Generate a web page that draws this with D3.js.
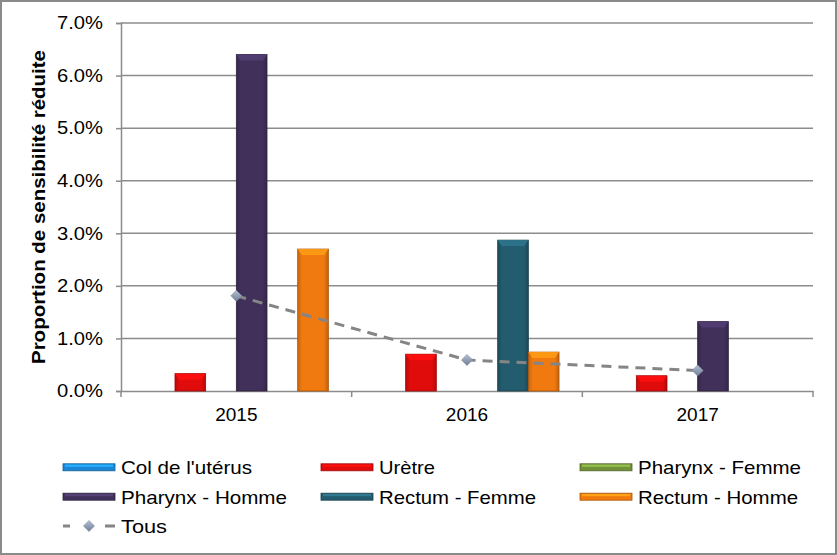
<!DOCTYPE html>
<html><head><meta charset="utf-8">
<script src="https://cdn.jsdelivr.net/npm/d3@7"></script>
<style>
html,body{margin:0;padding:0;background:#fff;}
svg{display:block;font-family:"Liberation Sans",Arial,sans-serif;}
</style></head>
<body>
<svg id="chart" width="837" height="555"></svg>
<script>
const years = ["2015", "2016", "2017"];
const seriesNames = ["Col de l'utérus", "Urètre", "Pharynx - Femme", "Pharynx - Homme", "Rectum - Femme", "Rectum - Homme"];
const colUterus    = [null, null, null];
const uretre       = [0.0033, 0.0070, 0.0029];
const pharynxFemme = [null, null, null];
const pharynxHomme = [0.0640, null, 0.0132];
const rectumFemme  = [null, 0.0287, null];
const rectumHomme  = [0.0270, 0.0074, null];
const tous         = [0.0181, 0.0059, 0.0039];
const yTicks = [0, 0.01, 0.02, 0.03, 0.04, 0.05, 0.06, 0.07];
const colors = ["#1a86d6", "#e00c0c", "#71903a", "#41305a", "#235c6e", "#f07a10"];
const allSeries = [colUterus, uretre, pharynxFemme, pharynxHomme, rectumFemme, rectumHomme];

const svg = d3.select("#chart");
const W = 837, H = 555;
const pLeft = 121, pRight = 813, pTop = 23, pBottom = 391;

// outer border
svg.append("rect").attr("x",1).attr("y",1).attr("width",W-2).attr("height",H-2)
  .attr("fill","#fff").attr("stroke","#8a8a8a").attr("stroke-width",2);

const x = d3.scaleBand().domain(years).range([pLeft, pRight]).paddingInner(0).paddingOuter(0);
const inner = d3.scaleBand().domain(d3.range(seriesNames.length))
  .range([0, x.bandwidth()]).paddingOuter(0.76).paddingInner(0);
const y = d3.scaleLinear().domain([0, 0.07]).range([pBottom, pTop]);

// gradients for bars
const defs = svg.append("defs");
colors.forEach((c, i) => {
  const g = defs.append("linearGradient").attr("id","g"+i).attr("x1","0").attr("x2","1").attr("y1","0").attr("y2","0");
  const base = d3.color(c);
  g.append("stop").attr("offset","0").attr("stop-color", base.darker(0.5));
  g.append("stop").attr("offset","0.15").attr("stop-color", base);
  g.append("stop").attr("offset","0.85").attr("stop-color", base);
  g.append("stop").attr("offset","1").attr("stop-color", base.darker(0.6));
});
const dg = defs.append("linearGradient").attr("id","dia").attr("x1","0").attr("x2","1").attr("y1","0").attr("y2","1");
dg.append("stop").attr("offset","0").attr("stop-color","#b4bfd2");
dg.append("stop").attr("offset","1").attr("stop-color","#6f7d96");

// grid
svg.append("g").selectAll("line").data(yTicks.slice(1)).join("line")
  .attr("x1", pLeft).attr("x2", pRight).attr("y1", d => y(d)).attr("y2", d => y(d))
  .attr("stroke","#8c8c8c").attr("stroke-width",1.5);

// y axis
const yAxis = d3.axisLeft(y).tickValues(yTicks).tickFormat(d3.format(".1%")).tickSize(5).tickPadding(12);
const yg = svg.append("g").attr("transform",`translate(${pLeft},0)`).call(yAxis);
yg.select(".domain").attr("stroke","#8c8c8c").attr("stroke-width",1.5);
yg.selectAll(".tick line").attr("stroke","#8c8c8c").attr("stroke-width",1.5);
yg.selectAll(".tick text").attr("font-size",18).attr("fill","#000")
  .attr("font-family","'Liberation Sans',Arial,sans-serif").attr("dx",-1)
  .attr("textLength",46).attr("lengthAdjust","spacingAndGlyphs");

// x axis
const xAxis = d3.axisBottom(x).tickSize(0).tickPadding(17);
const xg = svg.append("g").attr("transform",`translate(0,${pBottom})`).call(xAxis);
xg.select(".domain").attr("stroke","#8c8c8c").attr("stroke-width",1.5);
xg.selectAll(".tick text").attr("font-size",19).attr("fill","#000")
  .attr("font-family","'Liberation Sans',Arial,sans-serif");
const bounds = years.map(d => x(d)).concat([x(years[years.length-1]) + x.bandwidth()]);
xg.append("g").selectAll("line").data(bounds).join("line")
  .attr("x1", d => d).attr("x2", d => d).attr("y1", 0).attr("y2", 6)
  .attr("stroke","#8c8c8c").attr("stroke-width",1.5);

// y title
svg.append("text").attr("transform",`translate(45,207) rotate(-90)`)
  .attr("text-anchor","middle").attr("font-size",18).attr("font-weight","bold")
  .attr("textLength",314).attr("lengthAdjust","spacingAndGlyphs")
  .text("Proportion de sensibilité réduite");

// bars
const barsG = svg.append("g");
allSeries.forEach((vals, si) => {
  vals.forEach((v, yi) => {
    if (v == null) return;
    const bx = x(years[yi]) + inner(si);
    const bw = inner.bandwidth();
    const by = y(v), bh = y(0) - y(v);
    const g = barsG.append("g");
    g.append("rect").attr("x", bx).attr("y", by).attr("width", bw).attr("height", bh)
      .attr("fill", `url(#g${si})`).attr("stroke", d3.color(colors[si]).darker(1)).attr("stroke-width", 0.8);
    const bev = Math.min(6, bh);
    const light = d3.color(colors[si]).brighter(0.7);
    g.append("path")
      .attr("d", `M${bx},${by} L${bx+bw},${by} L${bx+bw-4},${by+bev} L${bx+4},${by+bev} Z`)
      .attr("fill", light).attr("opacity", 0.85);
  });
});

// line Tous
const line = d3.line().x((d,i) => x(years[i]) + x.bandwidth()/2).y(d => y(d));
svg.append("path").datum(tous).attr("d", line).attr("fill","none")
  .attr("stroke","#858585").attr("stroke-width",3).attr("stroke-dasharray","10,7");
const diamond = d3.symbol().type(d3.symbolSquare).size(62);
svg.append("g").selectAll("path").data(tous).join("path")
  .attr("transform", (d,i) => `translate(${x(years[i]) + x.bandwidth()/2},${y(d)}) rotate(45)`)
  .attr("d", diamond).attr("fill","url(#dia)").attr("stroke","#7b879c").attr("stroke-width",0.5);

// legend
const legCols = [63, 321, 580];
const legRows = [467.3, 496.7, 526];
const legTextW = [131, 56, 163, 166, 157, 160];
const swW = 52, txOff = 58;
const lg = svg.append("g");
seriesNames.forEach((name, i) => {
  const cx = legCols[i % 3], cy = legRows[Math.floor(i / 3)];
  const c = d3.color(colors[i]);
  lg.append("rect").attr("x", cx).attr("y", cy - 3.5).attr("width", swW).attr("height", 7)
    .attr("fill", c).attr("stroke", c.darker(1)).attr("stroke-width", 0.8);
  lg.append("rect").attr("x", cx + 2).attr("y", cy - 2.7).attr("width", swW - 4).attr("height", 2.2)
    .attr("fill", c.brighter(0.8));
  lg.append("text").attr("x", cx + txOff).attr("y", cy).attr("dy", "0.36em")
    .attr("font-size", 19).attr("textLength", legTextW[i]).attr("lengthAdjust","spacingAndGlyphs")
    .text(name);
});
{
  const cx = legCols[0], cy = legRows[2];
  lg.append("line").attr("x1", cx).attr("x2", cx + 7).attr("y1", cy).attr("y2", cy)
    .attr("stroke","#858585").attr("stroke-width",3);
  lg.append("line").attr("x1", cx + 42).attr("x2", cx + 52).attr("y1", cy).attr("y2", cy)
    .attr("stroke","#858585").attr("stroke-width",3);
  lg.append("path").attr("transform", `translate(${cx + 26},${cy}) rotate(45)`).attr("d", diamond)
    .attr("fill","url(#dia)").attr("stroke","#7b879c").attr("stroke-width",0.5);
  lg.append("text").attr("x", cx + txOff).attr("y", cy).attr("dy","0.36em").attr("font-size",19)
    .attr("textLength",46).attr("lengthAdjust","spacingAndGlyphs").text("Tous");
}
</script>
</body></html>
